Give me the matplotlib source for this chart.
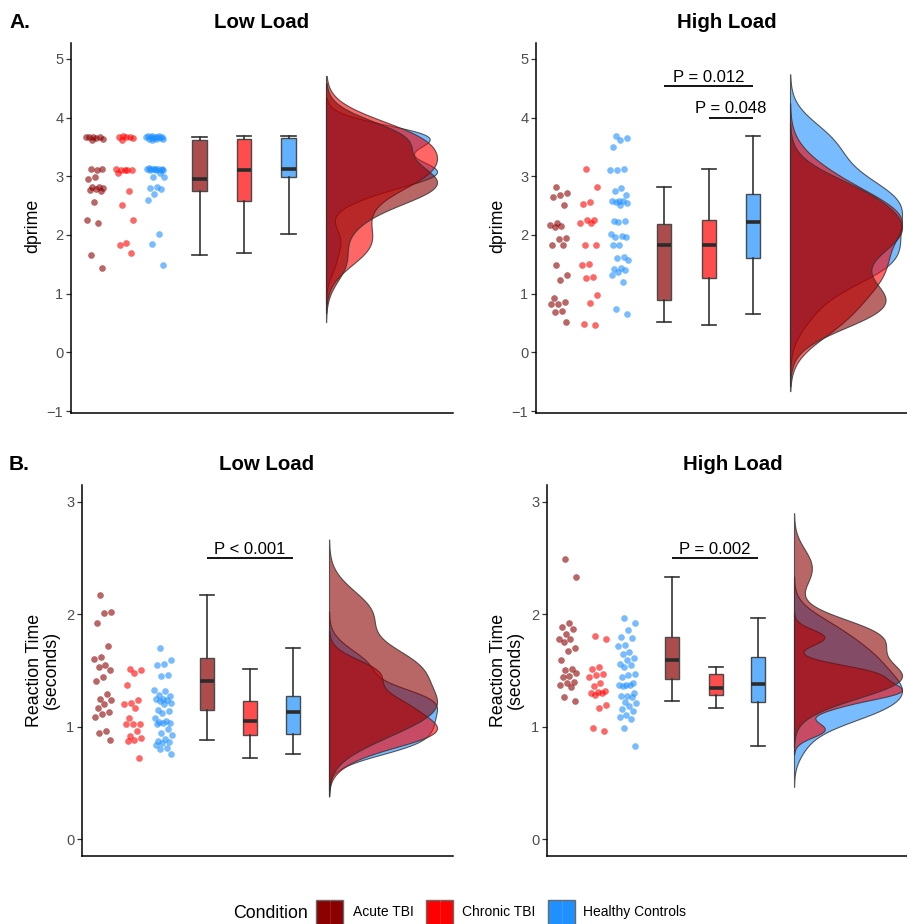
import numpy as np
import matplotlib
matplotlib.use("Agg")
import matplotlib.pyplot as plt
from matplotlib.patches import Rectangle
from matplotlib.lines import Line2D
from matplotlib.colors import to_rgba

plt.rcParams['font.family'] = ['Liberation Sans', 'DejaVu Sans']

# ---------------- data ----------------
conditions = ["Acute TBI", "Chronic TBI", "Healthy Controls"]
colors = ["#8B0000", "#FF0000", "#1E90FF"]

acute_low_dprime = [3.61, 3.64, 3.65, 3.66, 3.67, 3.67, 3.66, 3.11, 3.12, 3.12, 2.99, 2.96,
                    2.82, 2.81, 2.80, 2.79, 2.76, 2.75, 2.56, 2.25, 2.21, 1.65, 1.43]
chronic_low_dprime = [3.61, 3.65, 3.66, 3.67, 3.67, 3.68, 3.12, 3.11, 3.11, 3.11, 3.10, 3.05,
                      2.75, 2.51, 2.25, 1.87, 1.82, 1.70]
healthy_low_dprime = [3.62, 3.63, 3.64, 3.64, 3.65, 3.65, 3.66, 3.66, 3.67, 3.67, 3.67, 3.68, 3.68, 3.68,
                      3.10, 3.11, 3.11, 3.11, 3.12, 3.12, 3.12, 3.13, 3.13, 3.13, 3.14,
                      3.05, 2.99, 2.98, 2.81, 2.80, 2.79, 2.70, 2.59, 2.01, 1.84, 1.49]

acute_high_dprime = [2.82, 2.71, 2.68, 2.64, 2.51, 2.21, 2.17, 2.15, 2.14, 1.94, 1.93, 1.82, 1.82,
                     1.49, 1.31, 1.23, 0.92, 0.86, 0.83, 0.82, 0.70, 0.69, 0.51]
chronic_high_dprime = [3.12, 2.81, 2.56, 2.53, 2.26, 2.25, 2.21, 2.20, 1.83, 1.82, 1.50, 1.49,
                       1.28, 1.26, 0.98, 0.84, 0.48, 0.46]
healthy_high_dprime = [3.68, 3.65, 3.62, 3.49, 3.12, 3.11, 3.11, 2.80, 2.74, 2.68, 2.58, 2.57, 2.57,
                       2.56, 2.55, 2.51, 2.24, 2.23, 2.22, 2.01, 1.99, 1.97, 1.96, 1.83, 1.82, 1.62,
                       1.61, 1.58, 1.43, 1.42, 1.40, 1.37, 1.31, 1.20, 0.74, 0.66]

acute_low_rt = [2.17, 2.02, 2.01, 1.92, 1.72, 1.62, 1.60, 1.55, 1.53, 1.50, 1.44, 1.41, 1.29, 1.25,
                1.24, 1.20, 1.17, 1.13, 1.11, 1.09, 0.96, 0.94, 0.88]
chronic_low_rt = [1.51, 1.50, 1.48, 1.37, 1.24, 1.21, 1.20, 1.17, 1.08, 1.02, 1.02, 1.02, 0.96, 0.92,
                  0.90, 0.88, 0.87, 0.72]
healthy_low_rt = [1.70, 1.59, 1.56, 1.55, 1.46, 1.45, 1.33, 1.32, 1.28, 1.27, 1.25, 1.25, 1.24, 1.23,
                  1.21, 1.20, 1.15, 1.14, 1.12, 1.08, 1.05, 1.04, 1.03, 1.03, 1.02, 0.98, 0.94, 0.93,
                  0.89, 0.87, 0.86, 0.85, 0.84, 0.81, 0.80, 0.76]

acute_high_rt = [2.49, 2.33, 1.92, 1.89, 1.87, 1.82, 1.78, 1.78, 1.75, 1.70, 1.67, 1.59, 1.51, 1.50,
                 1.48, 1.45, 1.44, 1.40, 1.39, 1.37, 1.35, 1.26, 1.23]
chronic_high_rt = [1.81, 1.78, 1.53, 1.51, 1.47, 1.46, 1.44, 1.39, 1.36, 1.32, 1.31, 1.30, 1.30, 1.28,
                   1.19, 1.17, 0.99, 0.96]
healthy_high_rt = [1.97, 1.92, 1.86, 1.80, 1.79, 1.73, 1.72, 1.66, 1.65, 1.61, 1.59, 1.56, 1.55, 1.53,
                   1.47, 1.46, 1.44, 1.39, 1.37, 1.37, 1.37, 1.36, 1.30, 1.27, 1.27, 1.26, 1.22, 1.21,
                   1.18, 1.16, 1.14, 1.10, 1.09, 1.07, 0.99, 0.83]

titles = ["Low Load", "High Load", "Low Load", "High Load"]
ylabels = ["dprime", "dprime", "Reaction Time\n(seconds)", "Reaction Time\n(seconds)"]
dprime_ticks = [-1, 0, 1, 2, 3, 4, 5]
rt_ticks = [0, 1, 2, 3]

# significance brackets: (group i, group j, y, label)
sig_A_low = []
sig_A_high = [(0, 2, 4.53, "P = 0.012"), (1, 2, 4.00, "P = 0.048")]
sig_B_low = [(0, 2, 2.50, "P < 0.001")]
sig_B_high = [(0, 2, 2.50, "P = 0.002")]

# ---------------- layout ----------------
W, H = 907, 924
fig = plt.figure(figsize=(W / 100, H / 100), dpi=100)
fig.patch.set_facecolor("white")

panels = [
    dict(rect=(71, 43, 453, 413), data=[acute_low_dprime, chronic_low_dprime, healthy_low_dprime],
         ylim=(-1.034, 5.27), ticks=dprime_ticks, pts=(24, 54, 84), box=(128.5, 173, 217.5),
         base=255, vw=111, sig=sig_A_low, title_xy=(262, 22), ylab_xy=(33, 226)),
    dict(rect=(536, 43, 907, 413), data=[acute_high_dprime, chronic_high_dprime, healthy_high_dprime],
         ylim=(-1.034, 5.27), ticks=dprime_ticks, pts=(23, 53, 83), box=(128, 173, 217),
         base=254, vw=112, sig=sig_A_high, title_xy=(727, 22), ylab_xy=(498, 226)),
    dict(rect=(82, 485, 453, 856), data=[acute_low_rt, chronic_low_rt, healthy_low_rt],
         ylim=(-0.151, 3.15), ticks=rt_ticks, pts=(21, 51, 81), box=(125, 168, 211),
         base=247, vw=108, sig=sig_B_low, title_xy=(267, 465), ylab_xy=(43, 670)),
    dict(rect=(547, 485, 907, 856), data=[acute_high_rt, chronic_high_rt, healthy_high_rt],
         ylim=(-0.151, 3.15), ticks=rt_ticks, pts=(21, 51, 80), box=(125, 169, 211),
         base=247, vw=108, sig=sig_B_high, title_xy=(733, 465), ylab_xy=(507, 670)),
]


def nrd0(x):
    x = np.asarray(x, float)
    hi = x.std(ddof=1)
    q75, q25 = np.percentile(x, [75, 25])
    lo = min(hi, (q75 - q25) / 1.34)
    if not lo:
        lo = hi if hi else 1.0
    return 0.9 * lo * len(x) ** -0.2


def kde(x):
    x = np.asarray(x, float)
    bw = nrd0(x)
    y = np.linspace(x.min() - 3 * bw, x.max() + 3 * bw, 512)
    d = np.exp(-0.5 * ((y[:, None] - x[None, :]) / bw) ** 2).sum(axis=1)
    return y, d / d.max()


def jitter(n, half=9.0):
    k = np.arange(n)
    return half * (2 * ((k * 0.618034 + 0.31) % 1.0) - 1)


for i, p in enumerate(panels):
    l, t, r, b = p["rect"]
    ax = fig.add_axes([l / W, 1 - b / H, (r - l) / W, (b - t) / H])
    ax.set_facecolor("none")
    ax.set_xlim(0, r - l)
    ax.set_ylim(*p["ylim"])
    ax.set_yticks(p["ticks"])
    ax.set_xticks([])
    for s in ("top", "right"):
        ax.spines[s].set_visible(False)
    for s in ("left", "bottom"):
        ax.spines[s].set_linewidth(1.1)
        ax.spines[s].set_color("black")
    ax.tick_params(axis="y", length=3.5, width=0.9, color="#333333", labelcolor="#4D4D4D",
                   labelsize=10.5, pad=2)

    # raw points
    for g, vals in enumerate(p["data"]):
        v = np.asarray(vals)
        ax.scatter(p["pts"][g] + jitter(len(v)), v, s=23, color=colors[g], alpha=0.6,
                   linewidths=0, zorder=3)

    # boxplots
    bp = ax.boxplot(p["data"], positions=list(p["box"]), widths=14.5, capwidths=14.5,
                    patch_artist=True, showfliers=False, manage_ticks=False, whis=1.5,
                    medianprops=dict(color="#2b2b2b", linewidth=2.6),
                    boxprops=dict(edgecolor="#4a4a4a", linewidth=1.0),
                    whiskerprops=dict(color="#333333", linewidth=1.2),
                    capprops=dict(color="#333333", linewidth=1.2))
    for g, patch in enumerate(bp["boxes"]):
        patch.set_facecolor(to_rgba(colors[g], 0.7))
    ax.set_xlim(0, r - l)

    # half violins (healthy, chronic, acute)
    for g in (2, 1, 0):
        y, d = kde(p["data"][g])
        ax.fill_betweenx(y, p["base"], p["base"] + p["vw"] * d,
                         facecolor=to_rgba(colors[g], 0.6),
                         edgecolor=to_rgba("#333333", 0.8), linewidth=0.8, zorder=2)

    # significance
    for (g1, g2, yv, lab) in p["sig"]:
        x1, x2 = p["box"][g1], p["box"][g2]
        ax.plot([x1, x2], [yv, yv], color="black", lw=1.3, solid_capstyle="butt", zorder=4)
        ax.annotate(lab, xy=((x1 + x2) / 2, yv), xytext=(0, 3), textcoords="offset points",
                    ha="center", va="baseline", fontsize=12, color="black")

    fig.text(p["title_xy"][0] / W, 1 - p["title_xy"][1] / H, titles[i], fontsize=14.7,
             fontweight="bold", ha="center", va="center")
    fig.text(p["ylab_xy"][0] / W, 1 - p["ylab_xy"][1] / H, ylabels[i], fontsize=12.8,
             rotation=90, ha="center", va="center", multialignment="center", linespacing=1.0)

# panel tags
fig.text(9 / W, 1 - 22 / H, "A.", fontsize=15, fontweight="bold", ha="left", va="center")
fig.text(9 / W, 1 - 465 / H, "B.", fontsize=15, fontweight="bold", ha="left", va="center")

# legend
fig.text(233 / W, 1 - 913 / H, "Condition", fontsize=12.8, ha="left", va="center")
key_x = [316, 426, 548]
lab_x = [353, 462, 583]
for g in range(3):
    kx = key_x[g]
    fig.add_artist(Rectangle((kx / W, 1 - 927 / H), 27 / W, 27 / H, transform=fig.transFigure,
                             facecolor=colors[g], edgecolor="#6a6a6a", linewidth=1.0))
    fig.add_artist(Line2D([(kx + 13.5) / W] * 2, [1 - 927 / H, 1 - 900 / H],
                          transform=fig.transFigure, color="white", alpha=0.12, lw=0.8))
    fig.text(lab_x[g] / W, 1 - 912 / H, conditions[g], fontsize=10, ha="left", va="center")

fig.savefig("out.png", dpi=100, facecolor="white")
